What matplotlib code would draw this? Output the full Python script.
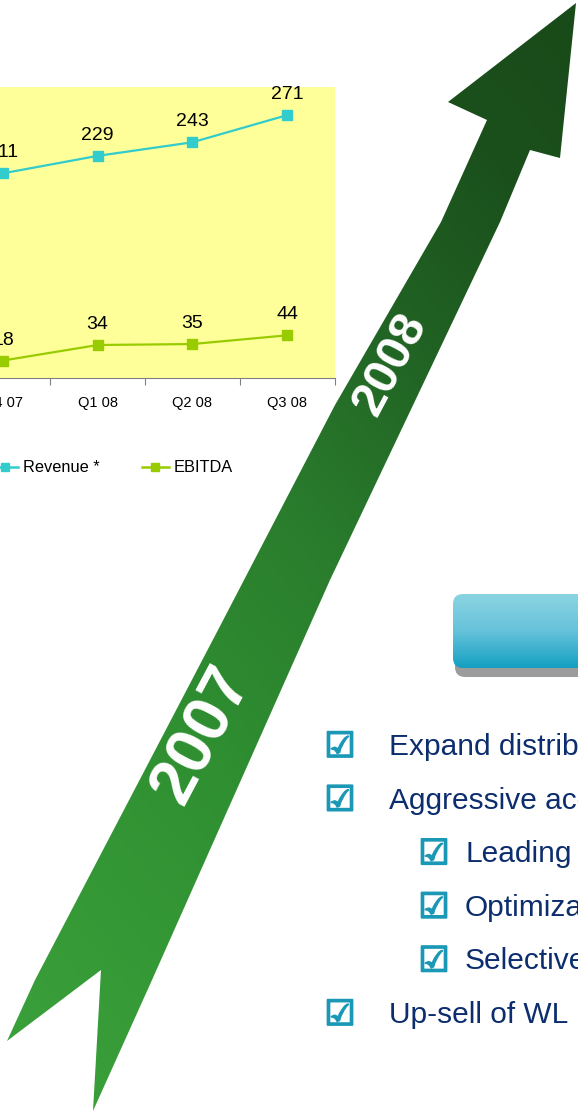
import numpy as np
import matplotlib.pyplot as plt
import matplotlib.patheffects as pe
from matplotlib.patches import Polygon, FancyBboxPatch
from matplotlib.colors import LinearSegmentedColormap
from matplotlib.lines import Line2D

# chart data
quarters = ["Q4 07", "Q1 08", "Q2 08", "Q3 08"]
revenue = [211, 229, 243, 271]
ebitda = [18, 34, 35, 44]

# bullet list on the right (level 0 = main, 1 = sub item)
bullets = ["Expand distribution", "Aggressive acquisitions", "Leading",
           "Optimization", "Selective", "Up-sell of WL"]
levels = [0, 0, 1, 1, 1, 0]

W, H = 578, 1112
plt.rcParams['font.family'] = ['Liberation Sans', 'DejaVu Sans']
fig = plt.figure(figsize=(W / 100, H / 100), dpi=100)

# background axes in pixel units (y down) for the decorations
bg = fig.add_axes([0, 0, 1, 1])
bg.set_xlim(0, W)
bg.set_ylim(H, 0)
bg.axis('off')

# big green arrow with gradient
arrow_pts = [(93, 1111), (101, 970), (7, 1041), (35, 980), (218, 630),
             (335, 405), (441, 222), (487, 120), (448, 102), (576, 3),
             (560, 158), (530, 150), (500, 222), (330, 580), (152, 980)]
arrow = Polygon(arrow_pts, closed=True, facecolor='none', edgecolor='none')
bg.add_patch(arrow)
yy, xx = np.mgrid[0:H, 0:W]
t = 0.75 * xx - 0.66 * yy
t = (t + 675) / 1105
green = LinearSegmentedColormap.from_list(
    'g', [(0, '#3AA03A'), (0.3, '#2F8F31'), (0.5, '#2A7D2D'),
          (0.68, '#216424'), (0.85, '#1B501C'), (1, '#194A19')])
im = bg.imshow(np.clip(t, 0, 1), cmap=green, vmin=0, vmax=1,
               extent=(0, W, H, 0), aspect='auto', interpolation='bilinear')
im.set_clip_path(arrow)

bg.text(202, 735, "2007", color='white', fontsize=47, fontweight='bold',
        rotation=62, ha='center', va='center', rotation_mode='anchor', zorder=3)
bg.text(391, 364, "2008", color='white', fontsize=35, fontweight='bold',
        rotation=62, ha='center', va='center', rotation_mode='anchor', zorder=3)

# blue header box (cut by the right edge)
shadow = FancyBboxPatch((455, 603), 260, 74, boxstyle="round,pad=0,rounding_size=10",
                        facecolor='#9C9C9C', edgecolor='none', zorder=1)
bg.add_patch(shadow)
box = FancyBboxPatch((453, 594), 260, 74, boxstyle="round,pad=0,rounding_size=10",
                     facecolor='none', edgecolor='none')
bg.add_patch(box)
blue = LinearSegmentedColormap.from_list('b', ['#8BD4E2', '#66C2DA', '#14A0C2'])
grad = np.linspace(0, 1, 100).reshape(-1, 1)
bim = bg.imshow(grad, cmap=blue, extent=(453, 713, 668, 594), aspect='auto',
                interpolation='bilinear', zorder=2)
bim.set_clip_path(box)

# check list
for i, (txt, lv) in enumerate(zip(bullets, levels)):
    y = 747 + i * 53.6
    bx = 340 if lv == 0 else 434
    tx = 389 if lv == 0 else 465
    bg.text(bx, y, "\u2611", family='DejaVu Sans', fontsize=25,
            color='#1A98B5', ha='center', va='center',
            path_effects=[pe.withStroke(linewidth=1.3, foreground='#1A98B5')])
    bg.text(tx, y, txt, fontsize=21.5, color='#0D2E6E', ha='left', va='center')

# line chart
ax = fig.add_axes([-44.5 / W, 1 - 378 / H, 379 / W, 291 / H])
ax.set_facecolor('#FFFF99')
x = np.arange(len(quarters))
ax.plot(x, revenue, color='#33CCCC', marker='s', ms=6.5, lw=1.6, label='Revenue *')
ax.plot(x, ebitda, color='#99CC00', marker='s', ms=6.5, lw=1.6, label='EBITDA')
for xi, v in zip(x, revenue):
    ax.annotate(str(v), (xi, v), xytext=(0, 11.5), textcoords='offset points',
                ha='center', va='baseline', fontsize=14)
for xi, v in zip(x, ebitda):
    ax.annotate(str(v), (xi, v), xytext=(0, 11.5), textcoords='offset points',
                ha='center', va='baseline', fontsize=14)
ax.set_xlim(-0.5, 3.5)
ax.set_ylim(0, 300)
for s in ['left', 'top', 'right']:
    ax.spines[s].set_visible(False)
ax.spines['bottom'].set_color('#808080')
ax.set_yticks([])
ax.set_xticks(x + 0.5)
ax.set_xticklabels([])
ax.set_xticks(x, minor=True)
ax.set_xticklabels(quarters, minor=True)
ax.tick_params(axis='x', which='major', length=5, color='#808080', direction='out')
ax.tick_params(axis='x', which='minor', length=0, pad=13, labelsize=10.5)

handles = [Line2D([], [], color='#33CCCC', marker='s', ms=6, lw=1.8),
           Line2D([], [], color='#99CC00', marker='s', ms=6, lw=1.8)]
fig.legend(handles, ['Revenue *', 'EBITDA'], loc='center left',
           bbox_to_anchor=(-8 / W, 1 - 468 / H), ncol=2, frameon=False,
           fontsize=11.8, handlelength=1.6, handletextpad=0.3,
           columnspacing=2.6, borderpad=0, borderaxespad=0)

fig.savefig('out.png', dpi=100)
